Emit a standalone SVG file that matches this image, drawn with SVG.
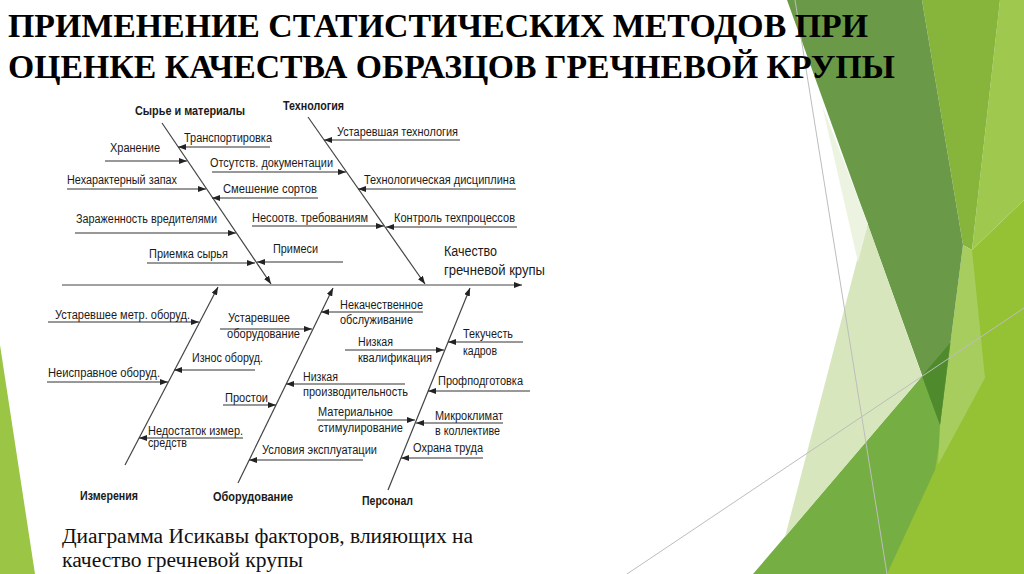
<svg xmlns="http://www.w3.org/2000/svg" width="1024" height="574" viewBox="0 0 1024 574">
<defs>
<style>
.t{font-family:"Liberation Sans",Arial,sans-serif;font-size:12.5px;fill:#1a1a1a}
.c{font-family:"Liberation Sans",Arial,sans-serif;font-size:13px;font-weight:bold;fill:#1a1a1a}
.q{font-family:"Liberation Sans",Arial,sans-serif;font-size:14px;fill:#1a1a1a}
.cap{font-family:"Liberation Serif","Times New Roman",serif;font-size:20px;fill:#111}
.ttl{font-family:"Liberation Serif","Times New Roman",serif;font-size:34px;font-weight:bold;fill:#000}
.bone{stroke:#444;stroke-width:1.2;fill:none;marker-end:url(#ah)}
.sub{stroke:#333;stroke-width:1.2;fill:none;marker-end:url(#ah)}
.gl{stroke:#bdbdbd;stroke-width:1;fill:none}
</style>
<marker id="ah" viewBox="0 0 8 6" refX="8" refY="3" markerWidth="8" markerHeight="6" markerUnits="userSpaceOnUse" orient="auto">
<path d="M0,0 L8,3 L0,6 z" fill="#222"/>
</marker>
</defs>
<rect width="1024" height="574" fill="#fff"/>
<g id="background">
<polygon points="753,574 1024,257 1024,574" fill="#75ae43"/>
<polygon points="887,574 935,470 972,250 1024,200 1024,574" fill="#95c234"/>
<polygon points="1000,0 1024,0 1024,200 972,250" fill="#9ec94e"/>
<polygon points="922,0 1000,0 972,250 963,245" fill="#87b53b"/>
<polygon points="963,245 972,250 985,378 938,465 940,425" fill="#a7cd5e"/>
<polygon points="787,0 922,0 963,245 940,425" fill="#6a9a48"/>
<polygon points="922,376 950,343 940,425" fill="#4f8b2d"/>
<polygon points="867,222 922,376 785,537" fill="#d7e6bd"/>
<polygon points="822,105 868,224 858,262" fill="#ecf4e1"/>
<polygon points="0,345 35,574 0,574" fill="#9bc545"/>
<line class="gl" x1="795" y1="0" x2="887" y2="574"/>
<line class="gl" x1="627" y1="574" x2="1024" y2="308"/>
</g>
<g id="title">
<text class="ttl" x="8" y="37" textLength="860" lengthAdjust="spacingAndGlyphs">ПРИМЕНЕНИЕ СТАТИСТИЧЕСКИХ МЕТОДОВ ПРИ</text>
<text class="ttl" x="8" y="78" textLength="887" lengthAdjust="spacingAndGlyphs">ОЦЕНКЕ КАЧЕСТВА ОБРАЗЦОВ ГРЕЧНЕВОЙ КРУПЫ</text>
</g>
<g id="connectors">
<line class="bone" x1="62" y1="285" x2="522" y2="285"/>
<line class="bone" x1="162" y1="123" x2="271" y2="284"/>
<line class="bone" x1="308" y1="117" x2="425" y2="284"/>
<line class="bone" x1="125" y1="465" x2="218" y2="287"/>
<line class="bone" x1="238" y1="483" x2="333" y2="288"/>
<line class="bone" x1="388" y1="490" x2="470" y2="288"/>
<line class="sub" x1="270" y1="147" x2="178" y2="147"/>
<line class="sub" x1="105" y1="161" x2="187" y2="161"/>
<line class="sub" x1="212" y1="172" x2="346" y2="172"/>
<line class="sub" x1="67" y1="189" x2="206" y2="189"/>
<line class="sub" x1="318" y1="198" x2="212" y2="198"/>
<line class="sub" x1="75" y1="233" x2="236" y2="233"/>
<line class="sub" x1="252" y1="226" x2="384" y2="226"/>
<line class="sub" x1="147" y1="263" x2="255" y2="263"/>
<line class="sub" x1="343" y1="262" x2="257" y2="262"/>
<line class="sub" x1="460" y1="140" x2="324" y2="140"/>
<line class="sub" x1="516" y1="189" x2="358" y2="189"/>
<line class="sub" x1="517" y1="227" x2="386" y2="227"/>
<line class="sub" x1="48" y1="322" x2="199" y2="322"/>
<line class="sub" x1="47" y1="382" x2="168" y2="382"/>
<line class="sub" x1="255" y1="370" x2="174" y2="370"/>
<line class="sub" x1="243" y1="438" x2="139" y2="438"/>
<line class="sub" x1="220" y1="329" x2="312" y2="329"/>
<line class="sub" x1="223" y1="405" x2="276" y2="405"/>
<line class="sub" x1="363" y1="460" x2="249" y2="460"/>
<line class="sub" x1="423" y1="312" x2="321" y2="312"/>
<line class="sub" x1="405" y1="384" x2="286" y2="384"/>
<line class="sub" x1="345" y1="350" x2="444" y2="350"/>
<line class="sub" x1="317" y1="420" x2="415" y2="420"/>
<line class="sub" x1="523" y1="342" x2="448" y2="342"/>
<line class="sub" x1="530" y1="391" x2="428" y2="391"/>
<line class="sub" x1="503" y1="423" x2="416" y2="423"/>
<line class="sub" x1="483" y1="458" x2="401" y2="458"/>
</g>
<g id="effect">
<text class="q" x="444" y="256" textLength="53" lengthAdjust="spacingAndGlyphs">Качество</text>
<text class="q" x="444" y="275" textLength="101" lengthAdjust="spacingAndGlyphs">гречневой крупы</text>
</g>
<g id="cat-materials">
<text class="c" x="135" y="115" textLength="110" lengthAdjust="spacingAndGlyphs">Сырье и материалы</text>
<text class="t" x="184" y="142" textLength="88" lengthAdjust="spacingAndGlyphs">Транспортировка</text>
<text class="t" x="110" y="152" textLength="50" lengthAdjust="spacingAndGlyphs">Хранение</text>
<text class="t" x="210" y="167" textLength="123" lengthAdjust="spacingAndGlyphs">Отсутств. документации</text>
<text class="t" x="67" y="184" textLength="110" lengthAdjust="spacingAndGlyphs">Нехарактерный запах</text>
<text class="t" x="223" y="193" textLength="94" lengthAdjust="spacingAndGlyphs">Смешение сортов</text>
<text class="t" x="76" y="223" textLength="141" lengthAdjust="spacingAndGlyphs">Зараженность вредителями</text>
<text class="t" x="252" y="222" textLength="116" lengthAdjust="spacingAndGlyphs">Несоотв. требованиям</text>
<text class="t" x="149" y="258" textLength="79" lengthAdjust="spacingAndGlyphs">Приемка сырья</text>
<text class="t" x="273" y="253" textLength="45" lengthAdjust="spacingAndGlyphs">Примеси</text>
</g>
<g id="cat-technology">
<text class="c" x="283" y="110" textLength="61" lengthAdjust="spacingAndGlyphs">Технология</text>
<text class="t" x="337" y="136" textLength="121" lengthAdjust="spacingAndGlyphs">Устаревшая технология</text>
<text class="t" x="364" y="184" textLength="151" lengthAdjust="spacingAndGlyphs">Технологическая дисциплина</text>
<text class="t" x="394" y="222" textLength="121" lengthAdjust="spacingAndGlyphs">Контроль техпроцессов</text>
</g>
<g id="cat-measurement">
<text class="c" x="80" y="500" textLength="58" lengthAdjust="spacingAndGlyphs">Измерения</text>
<text class="t" x="55" y="319" textLength="135" lengthAdjust="spacingAndGlyphs">Устаревшее метр. оборуд.</text>
<text class="t" x="48" y="377" textLength="112" lengthAdjust="spacingAndGlyphs">Неисправное оборуд.</text>
<text class="t" x="192" y="362" textLength="71" lengthAdjust="spacingAndGlyphs">Износ оборуд.</text>
<text class="t" x="148" y="435" textLength="95" lengthAdjust="spacingAndGlyphs">Недостаток измер.</text>
<text class="t" x="148" y="447" textLength="39" lengthAdjust="spacingAndGlyphs">средств</text>
</g>
<g id="cat-equipment">
<text class="c" x="213" y="501" textLength="80" lengthAdjust="spacingAndGlyphs">Оборудование</text>
<text class="t" x="228" y="322" textLength="62" lengthAdjust="spacingAndGlyphs">Устаревшее</text>
<text class="t" x="227" y="338" textLength="73" lengthAdjust="spacingAndGlyphs">оборудование</text>
<text class="t" x="225" y="402" textLength="43" lengthAdjust="spacingAndGlyphs">Простои</text>
<text class="t" x="262" y="454" textLength="115" lengthAdjust="spacingAndGlyphs">Условия эксплуатации</text>
<text class="t" x="340" y="309" textLength="83" lengthAdjust="spacingAndGlyphs">Некачественное</text>
<text class="t" x="340" y="324" textLength="73" lengthAdjust="spacingAndGlyphs">обслуживание</text>
<text class="t" x="303" y="381" textLength="35" lengthAdjust="spacingAndGlyphs">Низкая</text>
<text class="t" x="303" y="396" textLength="105" lengthAdjust="spacingAndGlyphs">производительность</text>
</g>
<g id="cat-personnel">
<text class="c" x="362" y="505" textLength="51" lengthAdjust="spacingAndGlyphs">Персонал</text>
<text class="t" x="358" y="346" textLength="35" lengthAdjust="spacingAndGlyphs">Низкая</text>
<text class="t" x="358" y="362" textLength="74" lengthAdjust="spacingAndGlyphs">квалификация</text>
<text class="t" x="318" y="416" textLength="75" lengthAdjust="spacingAndGlyphs">Материальное</text>
<text class="t" x="318" y="432" textLength="85" lengthAdjust="spacingAndGlyphs">стимулирование</text>
<text class="t" x="463" y="338" textLength="50" lengthAdjust="spacingAndGlyphs">Текучесть</text>
<text class="t" x="463" y="355" textLength="34" lengthAdjust="spacingAndGlyphs">кадров</text>
<text class="t" x="438" y="385" textLength="85" lengthAdjust="spacingAndGlyphs">Профподготовка</text>
<text class="t" x="435" y="420" textLength="68" lengthAdjust="spacingAndGlyphs">Микроклимат</text>
<text class="t" x="435" y="435" textLength="65" lengthAdjust="spacingAndGlyphs">в коллективе</text>
<text class="t" x="413" y="452" textLength="70" lengthAdjust="spacingAndGlyphs">Охрана труда</text>
</g>
<g id="caption">
<text class="cap" x="62" y="543" textLength="411" lengthAdjust="spacingAndGlyphs">Диаграмма Исикавы факторов, влияющих на</text>
<text class="cap" x="62" y="567" textLength="241" lengthAdjust="spacingAndGlyphs">качество гречневой крупы</text>
</g>
</svg>
